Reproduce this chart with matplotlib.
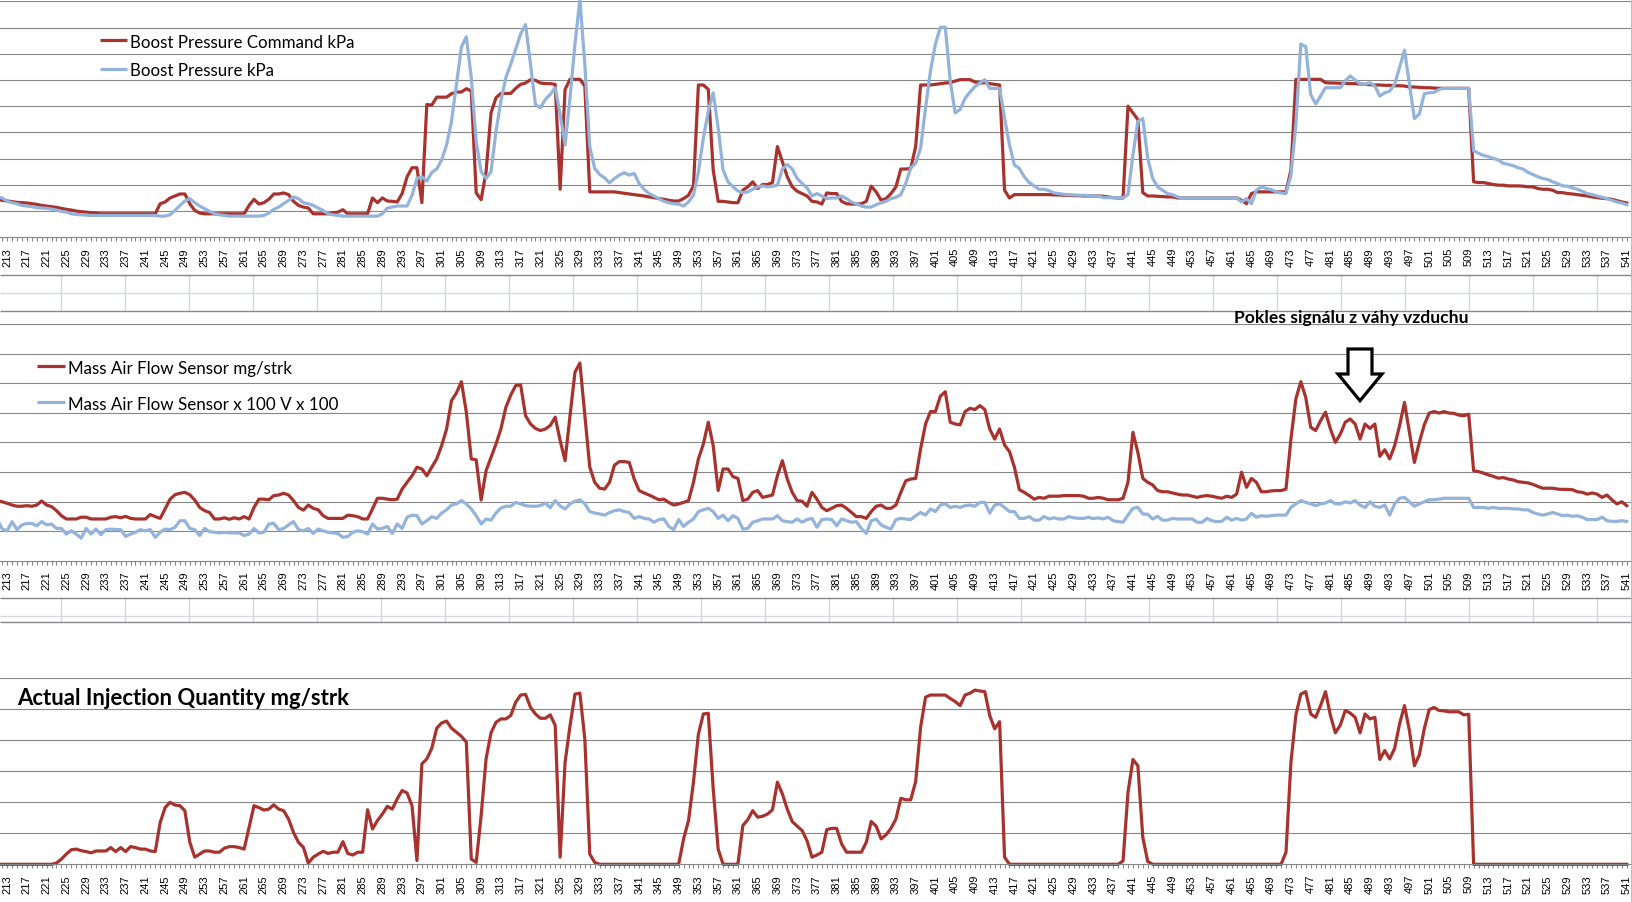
import numpy as np
import matplotlib
matplotlib.use("Agg")
import matplotlib.pyplot as plt
from matplotlib.patches import Polygon
from matplotlib.ticker import MultipleLocator

# sample numbers on the category axis
samples = np.arange(211, 542)
tick_labels = [str(v) for v in range(213, 542, 4)]

# Boost Pressure Command kPa
boost_cmd = [
    95.9, 95.3, 94.6, 94.0, 93.3, 93.0, 92.7, 92.0, 91.4, 90.4,
    89.8, 89.2, 88.5, 87.6, 86.6, 86.0, 85.0, 84.4, 84.0, 83.4,
    83.0, 82.4, 82.4, 82.4, 82.4, 82.4, 82.4, 82.4, 82.4, 82.4,
    82.4, 82.4, 82.4, 92.0, 93.7, 97.5, 99.4, 101.3, 101.3, 92.0,
    85.6, 83.1, 82.4, 82.4, 82.4, 82.4, 82.4, 82.4, 82.4, 82.4,
    82.4, 90.4, 96.2, 91.7, 93.0, 96.2, 101.3, 101.3, 102.3, 100.7,
    94.3, 90.4, 88.8, 87.9, 82.4, 82.4, 82.4, 82.4, 83.4, 84.0,
    86.3, 82.4, 82.4, 82.4, 82.4, 82.4, 97.5, 93.0, 97.5, 94.6,
    94.3, 93.7, 101.7, 117.7, 126.3, 126.3, 93.0, 186.6, 186.0, 193.6,
    193.6, 193.6, 196.9, 198.5, 198.5, 201.7, 199.4, 102.3, 95.9, 122.5,
    178.6, 193.0, 197.2, 197.2, 197.2, 202.0, 205.8, 207.1, 210.3, 209.7,
    207.1, 206.5, 206.5, 205.8, 105.8, 201.0, 210.6, 210.6, 210.6, 204.2,
    103.3, 103.3, 103.3, 103.3, 103.3, 103.3, 102.6, 102.0, 101.3, 100.7,
    100.1, 99.4, 98.5, 97.8, 96.9, 96.2, 95.3, 94.6, 94.6, 96.9,
    100.1, 109.0, 205.2, 205.2, 201.0, 124.1, 94.3, 94.3, 93.7, 93.0,
    93.0, 104.9, 108.1, 112.9, 106.5, 110.3, 110.3, 112.2, 146.5, 132.1,
    117.7, 108.1, 103.9, 101.7, 99.4, 94.3, 93.7, 91.7, 102.3, 101.7,
    101.7, 94.3, 92.0, 91.7, 91.7, 92.0, 94.3, 108.7, 103.3, 95.3,
    96.9, 101.7, 108.1, 125.1, 125.1, 125.7, 146.5, 205.2, 205.2, 205.2,
    205.8, 206.5, 207.1, 207.4, 209.0, 210.3, 210.3, 210.3, 208.1, 207.1,
    207.4, 206.5, 205.8, 205.2, 104.9, 97.5, 100.7, 100.7, 100.7, 100.7,
    100.7, 100.7, 100.7, 100.7, 100.4, 100.4, 100.1, 100.1, 99.7, 99.7,
    99.4, 99.4, 99.4, 99.4, 99.1, 98.5, 97.8, 97.5, 97.5, 185.0,
    178.6, 172.2, 102.6, 99.4, 99.4, 99.1, 98.8, 98.5, 98.5, 97.5,
    97.5, 97.5, 97.5, 97.5, 97.5, 97.5, 97.5, 97.5, 97.5, 97.5,
    97.5, 97.5, 95.3, 92.0, 101.7, 103.3, 103.3, 103.3, 103.3, 103.3,
    103.3, 103.3, 124.1, 210.6, 210.6, 210.6, 210.6, 210.6, 210.6, 207.4,
    207.1, 207.1, 206.8, 206.8, 206.5, 206.5, 206.1, 205.8, 205.5, 205.2,
    205.2, 204.9, 204.9, 204.5, 204.5, 204.2, 203.3, 203.3, 203.0, 202.6,
    202.6, 202.3, 202.0, 202.0, 202.0, 202.0, 202.0, 202.0, 202.0, 112.9,
    112.2, 112.2, 111.3, 110.3, 109.7, 109.7, 109.0, 109.0, 109.0, 108.7,
    108.1, 108.1, 106.5, 105.8, 105.8, 104.9, 102.6, 102.6, 101.7, 101.3,
    100.7, 100.1, 99.4, 98.5, 97.8, 97.2, 96.9, 96.2, 94.9, 93.7,
    92.7,
]

# Boost Pressure kPa
boost = [
    98.5, 97.5, 94.3, 93.0, 92.0, 90.4, 89.8, 89.2, 88.2, 87.9,
    87.6, 86.9, 86.0, 84.7, 84.0, 82.4, 81.8, 81.5, 81.2, 80.8,
    80.8, 80.8, 80.8, 80.8, 80.8, 80.8, 80.8, 80.8, 80.8, 80.8,
    80.8, 80.8, 80.8, 80.2, 80.2, 81.5, 85.6, 90.4, 94.6, 96.9,
    93.0, 89.8, 87.2, 84.7, 82.4, 81.5, 80.8, 80.2, 80.2, 80.2,
    80.2, 80.2, 80.2, 80.2, 80.8, 83.1, 86.6, 88.8, 92.0, 95.3,
    98.5, 96.9, 93.0, 92.0, 90.4, 87.9, 85.6, 82.4, 81.5, 80.8,
    80.2, 80.2, 80.2, 80.2, 80.2, 80.2, 80.2, 80.2, 82.4, 87.9,
    88.8, 89.8, 89.8, 89.8, 100.1, 116.1, 117.7, 113.5, 121.9, 125.1,
    133.7, 148.1, 170.6, 205.8, 241.1, 251.3, 212.2, 151.3, 122.5, 116.1,
    122.5, 161.0, 189.8, 212.2, 225.1, 239.5, 253.9, 262.9, 225.1, 186.6,
    183.4, 191.4, 196.2, 202.6, 177.0, 148.1, 193.0, 244.3, 286.9, 225.1,
    146.5, 125.7, 119.9, 116.7, 111.9, 116.1, 119.3, 121.5, 119.3, 120.9,
    111.3, 105.8, 101.7, 99.4, 96.9, 94.3, 93.0, 92.0, 91.7, 89.8,
    93.7, 100.1, 122.5, 154.5, 180.2, 197.8, 164.2, 124.1, 112.9, 108.1,
    104.2, 102.6, 103.3, 105.8, 108.1, 109.0, 108.1, 108.7, 109.7, 125.1,
    129.5, 125.1, 116.1, 111.3, 107.1, 99.4, 101.7, 99.4, 96.9, 97.5,
    97.5, 99.4, 96.9, 93.7, 92.0, 89.8, 88.8, 88.8, 91.1, 93.0,
    94.3, 96.9, 98.1, 100.7, 111.3, 126.3, 130.5, 144.9, 183.4, 218.6,
    244.3, 260.3, 260.3, 209.0, 178.6, 181.8, 192.4, 198.5, 203.6, 207.1,
    210.3, 202.0, 202.0, 202.0, 173.8, 148.1, 128.9, 125.7, 117.7, 112.2,
    109.0, 105.8, 105.8, 104.5, 102.3, 101.7, 101.0, 100.7, 100.4, 100.1,
    100.1, 99.7, 99.4, 99.4, 97.8, 97.8, 97.8, 97.8, 97.8, 100.7,
    138.5, 170.6, 173.1, 135.3, 116.1, 108.1, 104.9, 101.7, 100.7, 98.5,
    97.5, 97.5, 97.5, 97.5, 97.5, 97.5, 97.5, 97.5, 97.5, 97.5,
    97.5, 97.5, 93.7, 96.9, 92.0, 104.9, 108.1, 106.5, 105.5, 103.3,
    102.3, 101.7, 119.3, 167.4, 244.3, 241.7, 196.2, 187.2, 194.6, 202.6,
    202.6, 202.6, 202.6, 209.0, 213.8, 210.0, 206.5, 205.8, 207.4, 204.2,
    194.6, 197.8, 199.4, 205.8, 221.9, 238.5, 205.8, 173.1, 177.6, 196.9,
    197.8, 198.1, 201.0, 202.0, 202.0, 202.0, 202.0, 202.0, 202.0, 142.4,
    140.1, 137.9, 136.9, 135.3, 133.7, 130.5, 129.5, 128.3, 126.3, 125.1,
    121.9, 119.9, 117.7, 116.1, 115.1, 112.9, 111.3, 109.0, 108.7, 107.1,
    105.8, 103.9, 101.7, 100.7, 99.4, 98.1, 96.9, 95.3, 93.7, 92.7,
    91.1,
]

# Mass Air Flow Sensor mg/strk
maf = [
    203, 199, 194, 188, 184, 184, 186, 184, 188, 202,
    188, 183, 169, 152, 141, 141, 141, 147, 147, 141,
    141, 141, 141, 147, 149, 145, 150, 143, 141, 141,
    141, 156, 149, 143, 175, 208, 223, 228, 231, 223,
    205, 180, 169, 163, 141, 141, 145, 140, 145, 141,
    149, 141, 180, 208, 208, 206, 220, 222, 228, 222,
    203, 180, 171, 188, 177, 172, 152, 143, 143, 143,
    143, 154, 152, 149, 141, 141, 175, 211, 211, 208,
    206, 208, 242, 265, 287, 316, 310, 287, 316, 344,
    389, 445, 541, 567, 605, 502, 344, 341, 205, 304,
    349, 394, 445, 518, 560, 592, 594, 490, 462, 447,
    440, 445, 457, 485, 406, 338, 490, 637, 668, 490,
    316, 265, 245, 242, 265, 323, 335, 335, 332, 276,
    237, 229, 222, 214, 206, 208, 197, 188, 192, 197,
    203, 265, 344, 394, 468, 389, 237, 310, 310, 284,
    278, 203, 208, 231, 237, 214, 218, 222, 287, 338,
    276, 231, 203, 201, 184, 231, 208, 180, 169, 177,
    186, 188, 177, 163, 149, 149, 143, 166, 184, 188,
    177, 177, 188, 231, 270, 276, 278, 378, 462, 504,
    504, 556, 571, 468, 462, 459, 504, 515, 511, 524,
    511, 445, 411, 445, 391, 369, 316, 240, 231, 220,
    208, 214, 211, 218, 218, 218, 220, 220, 220, 220,
    218, 211, 211, 214, 211, 206, 206, 206, 211, 265,
    434, 366, 278, 265, 256, 237, 233, 233, 229, 225,
    222, 222, 218, 214, 218, 220, 218, 214, 211, 218,
    214, 225, 299, 248, 278, 265, 233, 233, 236, 237,
    237, 242, 411, 547, 605, 552, 451, 440, 473, 502,
    445, 400, 428, 468, 479, 462, 411, 462, 447, 462,
    353, 375, 344, 389, 456, 535, 434, 332, 400, 459,
    499, 504, 499, 504, 499, 498, 492, 490, 495, 304,
    301, 296, 290, 285, 279, 281, 276, 273, 267, 265,
    263, 258, 251, 245, 245, 245, 242, 241, 241, 240,
    233, 231, 225, 229, 225, 214, 222, 206, 192, 199,
    186,
]

# Mass Air Flow Sensor x 100 V x 100
maf_v = [
    141, 107, 101, 132, 105, 121, 126, 126, 118, 132,
    121, 124, 109, 109, 90, 101, 90, 76, 109, 90,
    107, 88, 105, 107, 105, 105, 82, 90, 96, 105,
    101, 105, 79, 96, 107, 105, 113, 135, 135, 109,
    105, 85, 109, 98, 96, 94, 96, 94, 94, 94,
    85, 90, 109, 94, 96, 124, 126, 105, 109, 121,
    132, 105, 101, 109, 92, 107, 101, 96, 94, 92,
    79, 82, 96, 101, 98, 90, 124, 107, 109, 116,
    92, 124, 109, 147, 154, 152, 124, 135, 149, 143,
    161, 172, 188, 192, 203, 192, 175, 152, 124, 141,
    137, 161, 178, 184, 184, 197, 192, 186, 184, 184,
    186, 195, 179, 203, 185, 175, 192, 201, 206, 192,
    166, 161, 158, 154, 163, 169, 172, 166, 163, 143,
    149, 143, 141, 130, 139, 141, 116, 105, 139, 116,
    130, 141, 166, 172, 177, 166, 143, 154, 135, 152,
    143, 107, 109, 130, 135, 141, 141, 141, 152, 135,
    132, 130, 141, 130, 139, 143, 113, 139, 141, 139,
    118, 141, 135, 130, 132, 109, 92, 135, 141, 121,
    113, 107, 139, 143, 141, 139, 152, 163, 154, 175,
    166, 188, 192, 180, 184, 180, 186, 188, 184, 197,
    197, 161, 188, 192, 180, 166, 166, 143, 143, 149,
    137, 137, 149, 141, 145, 141, 141, 149, 145, 143,
    143, 147, 142, 145, 141, 147, 135, 132, 130, 154,
    177, 180, 158, 157, 141, 150, 137, 137, 143, 141,
    141, 141, 141, 130, 130, 143, 135, 132, 133, 147,
    137, 143, 137, 141, 160, 147, 152, 150, 152, 154,
    154, 154, 180, 192, 203, 197, 192, 186, 192, 195,
    203, 192, 192, 199, 195, 203, 188, 180, 199, 184,
    180, 188, 154, 192, 211, 214, 199, 184, 192, 199,
    206, 206, 208, 211, 211, 211, 211, 211, 211, 180,
    180, 180, 177, 180, 177, 177, 177, 175, 175, 172,
    172, 163, 158, 154, 158, 163, 158, 152, 154, 150,
    152, 147, 139, 139, 139, 147, 135, 133, 133, 135,
    133,
]

# Actual Injection Quantity mg/strk
inj = [
    0, 0, 0, 0, 0, 0, 0, 0, 0, 0,
    0, 0, 0.4, 1.7, 3.3, 4.7, 4.9, 4.4, 4.1, 3.7,
    4.3, 4.3, 4.3, 5.4, 4.1, 5.4, 4.1, 5.7, 5.4, 4.9,
    4.9, 4.3, 4.1, 13.5, 18.3, 20.0, 19.1, 18.9, 17.3, 7.1,
    2.3, 3.3, 4.3, 4.3, 3.9, 3.9, 5.2, 5.7, 5.7, 5.4,
    4.9, 11.9, 18.9, 18.3, 17.5, 17.8, 19.2, 17.8, 17.3, 14.6,
    10.3, 7.1, 5.5, 0.4, 2.3, 3.3, 4.2, 3.5, 3.9, 3.9,
    7.3, 3.5, 3.0, 3.9, 3.9, 17.6, 11.4, 14.1, 16.2, 18.7,
    17.8, 21.1, 23.8, 23.0, 18.9, 1.2, 32.4, 34.0, 37.4, 43.9,
    45.6, 46.2, 43.9, 42.6, 41.3, 39.4, 1.7, 0.6, 15.7, 34.0,
    42.4, 45.8, 46.9, 46.9, 48.0, 52.3, 54.6, 54.8, 50.6, 48.5,
    47.1, 47.1, 48.2, 44.8, 2.3, 32.9, 44.7, 54.9, 55.2, 40.4,
    3.3, 0.6, 0, 0, 0, 0, 0, 0, 0, 0,
    0, 0, 0, 0, 0, 0, 0, 0, 0, 8.2,
    14.1, 26.5, 42.0, 48.5, 48.7, 24.3, 4.9, 0, 0, 0,
    0, 12.5, 14.4, 17.3, 15.2, 15.5, 16.2, 17.6, 26.5, 22.7,
    17.8, 13.8, 12.3, 10.9, 7.6, 2.3, 3.0, 3.9, 11.2, 11.6,
    11.6, 6.6, 3.9, 3.9, 3.9, 3.9, 7.1, 13.8, 12.3, 8.2,
    9.5, 11.6, 14.6, 21.3, 20.8, 20.8, 26.7, 44.2, 53.9, 54.6,
    54.6, 54.6, 54.6, 53.5, 52.5, 51.2, 54.6, 55.2, 56.2, 55.9,
    55.7, 48.0, 43.7, 46.0, 2.3, 0, 0, 0, 0, 0,
    0, 0, 0, 0, 0, 0, 0, 0, 0, 0,
    0, 0, 0, 0, 0, 0, 0, 0, 1.1, 23.2,
    33.8, 31.8, 8.7, 0.9, 0, 0, 0, 0, 0, 0,
    0, 0, 0, 0, 0, 0, 0, 0, 0, 0,
    0, 0, 0, 0, 0, 0, 0, 0, 0, 0,
    0, 3.9, 32.9, 48.2, 54.9, 55.7, 48.5, 47.4, 51.2, 55.7,
    48.0, 42.4, 44.9, 49.6, 48.8, 47.4, 42.4, 48.5, 46.9, 47.4,
    33.8, 36.7, 34.0, 37.4, 45.3, 51.2, 43.1, 31.8, 35.3, 43.7,
    49.9, 50.6, 49.6, 49.5, 49.2, 49.2, 49.2, 48.2, 48.4, 0,
    0, 0, 0, 0, 0, 0, 0, 0, 0, 0,
    0, 0, 0, 0, 0, 0, 0, 0, 0, 0,
    0, 0, 0, 0, 0, 0, 0, 0, 0, 0,
    0,
]

for name, arr in [("boost_cmd", boost_cmd), ("boost", boost), ("maf", maf),
                  ("maf_v", maf_v), ("inj", inj)]:
    assert len(arr) == len(samples), (name, len(arr))

RED = "#A8322D"
BLUE = "#93B3DA"
GRID = "#878787"
CELL = "#D0D7E5"
LW = 2.3

W, H = 1633, 903
fig = plt.figure(figsize=(W / 100, H / 100), dpi=100)
fig.patch.set_facecolor("white")

X_LO, X_HI = 211.56, 541.87
PLOT_R = 1631


def panel(top, bottom, ylo, yhi, step):
    ax = fig.add_axes([0, 1 - bottom / H, PLOT_R / W, (bottom - top) / H])
    ax.set_xlim(X_LO, X_HI)
    ax.set_ylim(ylo, yhi)
    for s in ["left", "right", "top"]:
        ax.spines[s].set_visible(False)
    ax.spines["bottom"].set_color(GRID)
    ax.spines["bottom"].set_linewidth(0.8)
    ax.set_yticks(np.arange(ylo + step, yhi + step / 2, step))
    ax.tick_params(axis="y", length=0, labelleft=False)
    ax.yaxis.grid(True, color=GRID, lw=0.8)
    ax.set_axisbelow(True)
    ax.set_xticks(range(213, 542, 4))
    ax.set_xticklabels(tick_labels, rotation=90, fontsize=8,
                       family="Liberation Sans")
    ax.xaxis.set_minor_locator(MultipleLocator(1))
    ax.tick_params(axis="x", which="both", length=3, width=0.8,
                   color=GRID, direction="out")
    ax.tick_params(axis="x", which="major", pad=4)
    return ax


ax1 = panel(2.3, 238.3, 60, 285, 25)
ax1.plot(samples, boost_cmd, color=RED, lw=LW, clip_on=False)
ax1.plot(samples, boost, color=BLUE, lw=LW, clip_on=False)

ax2 = panel(325, 561.7, 0, 800, 100)
ax2.plot(samples, maf, color=RED, lw=LW, clip_on=False)
ax2.plot(samples, maf_v, color=BLUE, lw=LW, clip_on=False)

ax3 = panel(679.3, 865.3, 0, 60, 10)
ax3.plot(samples, inj, color=RED, lw=LW, clip_on=False)

# overlay in pixel space: sheet cells, chart borders, legends, notes
ov = fig.add_axes([0, 0, 1, 1], zorder=5)
ov.set_xlim(0, W)
ov.set_ylim(H, 0)
ov.axis("off")

cols = 60.7 + 64 * np.arange(25)
for top, bot, row in [(276, 311.7, 294.3), (599.3, 623.3, 617.3)]:
    ov.vlines(cols, top, bot, color=CELL, lw=1)
    ov.hlines(row, 0, PLOT_R, color=CELL, lw=1)
ov.hlines([276, 311.7, 599.3, 623.3], 0, PLOT_R, color=GRID, lw=1)
ov.vlines(1632, 0, H, color="#A3B4CA", lw=1.2)

renderer = fig.canvas.get_renderer()


def fit(t, width):
    w = t.get_window_extent(renderer).width
    t.set_fontsize(t.get_fontsize() * width / w)
    return t.get_fontsize()


def legend(x0, x1, entries, width):
    size = None
    for (y, color, label) in entries:
        ov.plot([x0, x1], [y, y], color=color, lw=LW, solid_capstyle="butt")
        t = ov.text(x1 + 3, y + 6.5, label, va="baseline", family="Lato",
                    fontsize=12)
        if size is None:
            size = fit(t, width)
        else:
            t.set_fontsize(size)


legend(100, 127, [(41, RED, "Boost Pressure Command kPa"),
                  (70, BLUE, "Boost Pressure kPa")], 223)
legend(37.5, 65, [(367.3, RED, "Mass Air Flow Sensor mg/strk"),
                  (403.3, BLUE, "Mass Air Flow Sensor x 100 V x 100")], 223)

note = ov.text(1351, 323.3, "Pokles signálu z váhy vzduchu", ha="center",
               va="baseline", family="Lato", weight="bold", fontsize=12)
fit(note, 232)

title = ov.text(17, 705, "Actual Injection Quantity mg/strk", va="baseline",
                family="Lato", weight="bold", fontsize=15)
fit(title, 333)

arrow = Polygon([(1348, 350), (1372, 350), (1372, 375), (1382, 375),
                 (1360, 401.7), (1338, 375), (1348, 375)], closed=True,
                facecolor="white", edgecolor="black", lw=2.3,
                joinstyle="miter")
ov.add_patch(arrow)

fig.savefig("out.png", dpi=100, facecolor="white")
